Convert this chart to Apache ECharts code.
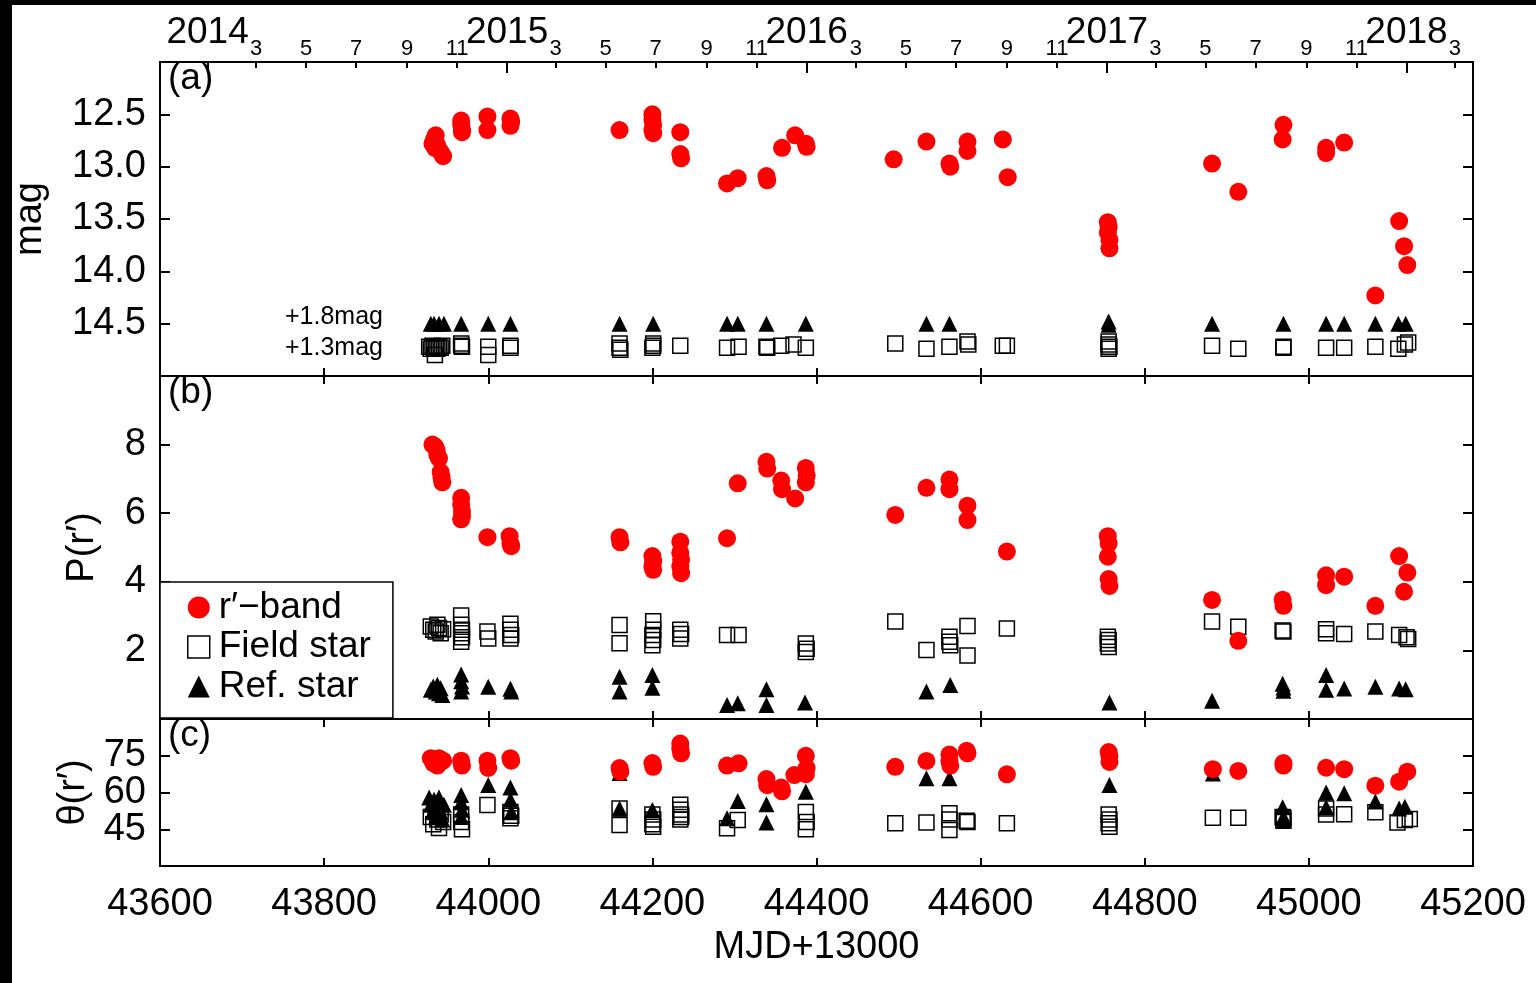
<!DOCTYPE html>
<html>
<head>
<meta charset="utf-8">
<title>r′-band photometry and polarimetry</title>
<script src="https://cdn.jsdelivr.net/npm/echarts@6/dist/echarts.min.js"></script>
<style>
  html, body { margin: 0; padding: 0; width: 1536px; height: 983px; background: #000; overflow: hidden; }
  #chart { position: absolute; left: 12px; top: 5px; width: 1524px; height: 978px; background: #fff; }
</style>
</head>
<body>
<div id="chart"></div>
<script>
// ---------- data: [MJD-13000 value, quantity] ----------
// (a) magnitudes
const magRband = [
  [43932,12.78],[43934,12.74],[43936,12.70],[43935,12.82],[43938,12.80],[43940,12.84],[43942,12.86],[43945,12.90],
  [43967,12.56],[43967,12.60],[43968,12.64],[43968,12.67],
  [43999,12.52],[43999,12.65],
  [44027,12.54],[44028,12.57],[44027,12.61],
  [44160,12.65],
  [44200,12.50],[44200,12.55],[44201,12.60],[44200,12.65],[44201,12.68],
  [44234,12.67],[44234,12.88],[44235,12.92],
  [44291,13.16],[44304,13.11],
  [44339,13.09],[44340,13.13],
  [44358,12.82],[44374,12.70],[44387,12.78],[44388,12.81],
  [44494,12.93],[44534,12.76],
  [44562,12.97],[44563,13.00],
  [44584,12.76],[44584,12.85],
  [44627,12.74],[44633,13.10],
  [44755,13.53],[44756,13.58],[44755,13.63],[44757,13.70],[44757,13.78],
  [44882,12.97],[44914,13.24],
  [44969,12.60],[44968,12.74],
  [45021,12.82],[45021,12.87],[45043,12.77],
  [45081,14.23],[45110,13.52],[45116,13.76],[45120,13.94]
];
const magField = [
  [43928,14.72],[43930,14.74],[43932,14.71],[43934,14.73],[43936,14.72],[43938,14.74],[43940,14.72],[43942,14.73],[43944,14.71],[43935,14.80],
  [43967,14.69],[43967,14.71],[43968,14.72],
  [44000,14.72],[44000,14.80],
  [44027,14.71],[44027,14.73],
  [44160,14.69],[44160,14.73],[44161,14.75],
  [44201,14.69],[44201,14.71],[44200,14.73],
  [44234,14.71],
  [44291,14.73],[44305,14.72],
  [44339,14.72],[44340,14.73],[44357,14.71],[44372,14.70],[44387,14.73],
  [44496,14.69],[44534,14.74],
  [44562,14.72],[44584,14.67],[44585,14.70],
  [44627,14.71],[44632,14.71],
  [44756,14.67],[44756,14.70],[44757,14.72],[44756,14.74],
  [44882,14.71],[44914,14.74],
  [44969,14.72],[44969,14.73],
  [45021,14.73],[45043,14.73],[45081,14.72],[45109,14.74],[45117,14.70],[45121,14.68]
];
const magRef = [
  [43930,14.50],[43934,14.50],[43940,14.50],[43946,14.50],
  [43967,14.50],[44000,14.50],[44027,14.50],
  [44160,14.50],[44201,14.50],
  [44291,14.50],[44304,14.50],[44339,14.50],[44387,14.50],
  [44534,14.50],[44562,14.50],
  [44756,14.48],[44756,14.51],
  [44882,14.50],[44969,14.50],[45021,14.50],[45043,14.50],[45081,14.50],[45109,14.50],[45118,14.50]
];

// (b) polarization degree
const polRband = [
  [43932,8.00],[43935,7.95],[43937,7.85],[43938,7.70],[43940,7.60],[43942,7.20],[43943,7.05],[43944,6.90],
  [43967,6.45],[43967,6.25],[43968,6.05],[43968,5.92],[43967,5.82],
  [43999,5.30],
  [44026,5.33],[44027,5.12],[44028,5.04],
  [44160,5.30],[44161,5.15],
  [44200,4.75],[44201,4.60],[44200,4.45],[44201,4.35],
  [44234,5.17],[44234,4.85],[44235,4.65],[44234,4.45],[44235,4.25],
  [44291,5.27],[44304,6.87],
  [44339,7.50],[44340,7.30],
  [44357,6.95],[44358,6.70],
  [44374,6.43],
  [44387,7.32],[44388,7.10],[44387,6.90],
  [44496,5.95],[44534,6.74],
  [44562,6.98],[44562,6.70],
  [44584,6.22],[44584,5.80],
  [44632,4.88],
  [44755,5.33],[44756,5.12],[44755,4.73],[44756,4.08],[44757,3.88],
  [44882,3.47],[44914,2.28],
  [44968,3.48],[44969,3.30],
  [45021,4.19],[45021,3.90],[45043,4.15],
  [45081,3.30],[45110,4.75],[45120,4.27],[45116,3.71]
];
const polField = [
  [43930,2.70],[43933,2.60],[43936,2.55],[43938,2.75],[43940,2.65],[43942,2.50],[43945,2.62],
  [43967,3.02],[43967,2.75],[43968,2.60],[43967,2.50],[43968,2.38],[43967,2.25],
  [43999,2.55],[44000,2.35],
  [44027,2.78],[44027,2.60],[44028,2.45],[44027,2.35],
  [44160,2.74],[44160,2.21],
  [44201,2.85],[44201,2.60],[44200,2.45],[44201,2.30],[44200,2.15],
  [44234,2.60],[44235,2.48],[44234,2.35],
  [44291,2.45],[44305,2.45],
  [44387,2.20],[44388,2.05],[44387,1.95],
  [44496,2.84],[44534,2.01],
  [44562,2.40],[44562,2.25],[44563,2.15],
  [44584,2.71],[44584,1.85],
  [44632,2.64],
  [44755,2.40],[44756,2.30],[44755,2.20],[44756,2.10],
  [44882,2.84],[44914,2.69],
  [44968,2.58],[44969,2.55],
  [45021,2.62],[45021,2.50],[45043,2.48],
  [45081,2.55],[45110,2.45],[45119,2.38],[45121,2.33]
];
const polRef = [
  [43930,0.85],[43933,0.95],[43936,0.80],[43938,1.00],[43940,0.75],[43942,0.90],[43944,0.70],
  [43967,1.30],[43967,1.10],[43968,0.95],[43967,0.80],
  [44000,0.94],[44027,0.88],[44028,0.80],
  [44160,1.23],[44160,0.80],
  [44200,1.28],[44200,0.91],
  [44291,0.41],[44304,0.46],
  [44339,0.87],[44339,0.41],
  [44386,0.48],
  [44534,0.80],[44563,0.99],
  [44757,0.48],
  [44882,0.53],
  [44968,1.03],[44969,0.92],[44969,0.82],
  [45021,1.28],[45021,0.85],[45043,0.89],
  [45081,0.94],[45110,0.89],[45118,0.87]
];

// (c) polarization angle
const angRband = [
  [43930,74],[43933,72],[43936,73.5],[43938,71],[43940,74],[43942,72.5],[43945,73],
  [43967,73],[43968,71],
  [43999,73],[44000,70],
  [44027,74],[44028,73],
  [44160,70],[44161,68.5],
  [44200,72],[44201,70.5],
  [44234,80],[44234,78],[44235,76],
  [44291,71],[44305,71.9],
  [44339,65.5],[44340,63],
  [44357,62],[44358,60.5],
  [44373,67.1],
  [44387,75],[44388,70],[44387,67.5],
  [44496,70.5],[44534,72.9],
  [44562,75.5],[44562,73],[44563,71],
  [44583,77],[44584,76],
  [44632,67.4],
  [44756,76.5],[44757,75],[44757,72.5],
  [44883,69.5],[44914,68.8],
  [44969,72],[44969,71],
  [45021,70.1],[45043,69.5],
  [45081,62.8],[45110,64.4],[45120,68.5]
];
const angField = [
  [43930,50],[43933,47],[43936,52],[43938,49],[43940,45.5],[43942,51],[43945,48],
  [43967,51],[43967,48],[43968,45],
  [43999,54.9],
  [44027,52],[44028,50.5],[44027,49.5],
  [44160,53.5],[44160,46.7],
  [44200,51],[44201,49],[44200,47],[44201,46],
  [44234,55],[44234,53],[44235,51],[44234,49],[44235,50],
  [44291,45.4],[44304,48.8],
  [44387,52],[44388,48],[44387,45],
  [44496,47.4],[44534,47.8],
  [44562,51.5],[44562,49],[44562,44.7],
  [44583,48.5],[44584,48],
  [44632,47.4],
  [44756,51],[44757,49],[44756,47.5],[44757,46],
  [44883,49.7],[44914,49.7],
  [44968,50],[44969,48.5],[44969,49.5],
  [45021,53.5],[45021,51],[45043,51.1],
  [45081,51.9],[45108,47.8],[45117,48.8],[45123,49.2]
];
const angRef = [
  [43928,58],[43930,55],[43932,52],[43934,57],[43936,50],[43938,54],[43940,58],[43942,52],[43944,49],[43946,55],
  [43967,59],[43967,56],[43968,53],[43967,50],
  [44000,63.1],
  [44027,62],[44027,57],[44028,52],
  [44160,68],[44160,53.5],[44200,52.9],
  [44291,49.5],[44304,56.5],
  [44339,55.2],[44339,47.8],
  [44387,60.3],
  [44534,65.8],[44562,65.8],
  [44757,63.1],
  [44883,67.8],
  [44968,54],[44969,50],[44969,48.5],
  [45021,60],[45021,54],[45043,59.7],
  [45081,56.3],[45110,53.5],[45117,54.2]
];

// ---------- tick labels ----------
const xTickStep = 200;
const yearLabels = ['2014', '2015', '2016', '2017', '2018'];
const monthLabels = ['3', '5', '7', '9', '11'];
const seriesNames = ['r′−band', 'Field star', 'Ref. star'];

// calendar date -> MJD-13000
function dayValue(year, month) {
  return Date.UTC(year, month - 1, 1) / 86400000 + 40587 - 13000;
}
const X_MIN = 43600, X_MAX = 45200;
const yearTicks = [], monthTicks = [], topLabel = new Map();
yearLabels.forEach(function (y) {
  const yr = Number(y);
  const v = dayValue(yr, 1);
  if (v >= X_MIN && v <= X_MAX) { yearTicks.push(v); topLabel.set(v, y); }
  monthLabels.forEach(function (m) {
    const mv = dayValue(yr, Number(m));
    if (mv >= X_MIN && mv <= X_MAX) { monthTicks.push(mv); topLabel.set(mv, m); }
  });
});

// ---------- layout ----------
const FONT = 'Liberation Sans, Arial, Helvetica, sans-serif';
const BLACK = '#000';
const RED = '#ff0000';
const grids = [
  { left: 148, top: 57,  width: 1313, height: 314 },
  { left: 148, top: 371, width: 1313, height: 343 },
  { left: 148, top: 714, width: 1313, height: 147 }
].map(function (g) { return Object.assign({ containLabel: false, outerBoundsMode: 'none' }, g); });

const line = { show: true, onZero: false, lineStyle: { color: BLACK, width: 2 } };

function plainX(gridIndex, position, withLabels) {
  return {
    type: 'value', gridIndex: gridIndex, position: position,
    min: X_MIN, max: X_MAX, interval: xTickStep,
    axisLine: line,
    axisTick: { show: true, inside: true, length: 8, lineStyle: { color: BLACK, width: 2 } },
    axisLabel: withLabels ? {
      show: true, color: BLACK, fontSize: 38, fontFamily: FONT, margin: 20,
      showMinLabel: true, showMaxLabel: true, hideOverlap: false,
      formatter: function (v) { return String(v); }
    } : { show: false },
    splitLine: { show: false }
  };
}

const xAxes = [
  plainX(0, 'bottom', false),
  // month ticks along the top of panel (a)
  {
    type: 'value', gridIndex: 0, position: 'top', min: X_MIN, max: X_MAX,
    axisLine: line,
    axisTick: { show: true, inside: true, length: 6, customValues: monthTicks, lineStyle: { color: BLACK, width: 2 } },
    axisLabel: { show: true, customValues: monthTicks, formatter: function (v) { return topLabel.get(v); },
      color: BLACK, fontSize: 22, fontFamily: FONT, margin: 2, hideOverlap: false },
    splitLine: { show: false }
  },
  // year ticks along the top of panel (a)
  {
    type: 'value', gridIndex: 0, position: 'top', min: X_MIN, max: X_MAX,
    axisLine: { show: false },
    axisTick: { show: true, inside: true, length: 11, customValues: yearTicks, lineStyle: { color: BLACK, width: 2 } },
    axisLabel: { show: true, customValues: yearTicks, formatter: function (v) { return topLabel.get(v); },
      color: BLACK, fontSize: 37, fontFamily: FONT, margin: 11, hideOverlap: false },
    splitLine: { show: false }
  },
  plainX(1, 'bottom', false),
  plainX(1, 'top', false),
  Object.assign(plainX(2, 'bottom', true), {
    name: 'MJD+13000', nameLocation: 'middle', nameGap: 63,
    nameTextStyle: { color: BLACK, fontSize: 38, fontFamily: FONT }
  }),
  plainX(2, 'top', false)
];

function yPair(gridIndex, min, max, interval, inverse, name, nameGap) {
  const base = {
    type: 'value', gridIndex: gridIndex, min: min, max: max, interval: interval, inverse: inverse,
    axisLine: line,
    axisTick: { show: true, inside: true, length: 10, lineStyle: { color: BLACK, width: 2 } },
    splitLine: { show: false }
  };
  return [
    Object.assign({}, base, {
      position: 'left',
      axisLabel: { show: true, color: BLACK, fontSize: 38, fontFamily: FONT, margin: 14,
        showMinLabel: false, showMaxLabel: false,
        formatter: function (v) { return interval < 1 ? v.toFixed(1) : String(v); } },
      name: name, nameLocation: 'middle', nameGap: nameGap,
      nameTextStyle: { color: BLACK, fontSize: 38, fontFamily: FONT }
    }),
    Object.assign({}, base, { position: 'right', axisLabel: { show: false } })
  ];
}

const yAxes = [].concat(
  yPair(0, 12, 15, 0.5, true, 'mag', 110),
  yPair(1, 0, 10, 2, false, 'P(r′)', 58),
  yPair(2, 30, 90, 15, false, 'θ(r′)', 58)
);

const styleR = { symbol: 'circle', symbolSize: 18, itemStyle: { color: RED, opacity: 1 } };
const styleF = { symbol: 'rect', symbolSize: 15, itemStyle: { color: 'rgba(0,0,0,0)', borderColor: BLACK, borderWidth: 1.5, opacity: 1 } };
const styleT = { symbol: 'triangle', symbolSize: 16, itemStyle: { color: BLACK, opacity: 1 } };

function scatter(name, data, xi, yi, st) {
  return Object.assign({ type: 'scatter', name: name, data: data, xAxisIndex: xi, yAxisIndex: yi,
    silent: true, animation: false }, st);
}

const series = [
  scatter(seriesNames[1], magField, 0, 0, styleF),
  scatter(seriesNames[2], magRef, 0, 0, styleT),
  scatter(seriesNames[0], magRband, 0, 0, styleR),
  scatter(seriesNames[1], polField, 3, 2, styleF),
  scatter(seriesNames[2], polRef, 3, 2, styleT),
  scatter(seriesNames[0], polRband, 3, 2, styleR),
  scatter(seriesNames[1], angField, 5, 4, styleF),
  scatter(seriesNames[2], angRef, 5, 4, styleT),
  scatter(seriesNames[0], angRband, 5, 4, styleR)
];

const panelText = function (txt, left, top) {
  return { type: 'text', left: left, top: top, z: 10,
    style: { text: txt, fill: BLACK, font: '37px ' + FONT } };
};
const offsetText = function (txt, x, y) {
  return { type: 'text', x: x, y: y, z: 10,
    style: { text: txt, fill: BLACK, font: '25px ' + FONT, align: 'right', verticalAlign: 'middle' } };
};

const chart = echarts.init(document.getElementById('chart'), null, { renderer: 'canvas' });
chart.setOption({
  backgroundColor: '#fff',
  animation: false,
  grid: grids,
  xAxis: xAxes,
  yAxis: yAxes,
  legend: {
    left: 148, top: 577, orient: 'vertical',
    padding: [7, 22, 13, 27], itemGap: 2.5, itemWidth: 22, itemHeight: 22,
    borderColor: BLACK, borderWidth: 1.5, backgroundColor: '#fff',
    selectedMode: false, z: 20,
    textStyle: { color: BLACK, fontSize: 37, fontFamily: FONT, lineHeight: 37, padding: [0, 0, 0, 4] },
    data: [
      { name: seriesNames[0], icon: 'circle', itemStyle: { color: RED, opacity: 1 } },
      { name: seriesNames[1], icon: 'rect', itemStyle: { color: '#fff', borderColor: BLACK, borderWidth: 1.5, opacity: 1 } },
      { name: seriesNames[2], icon: 'triangle', itemStyle: { color: BLACK, opacity: 1 } }
    ]
  },
  graphic: [
    panelText('(a)', 156, 55),
    panelText('(b)', 156, 369),
    panelText('(c)', 156, 712),
    offsetText('+1.8mag', 371, 312),
    offsetText('+1.3mag', 371, 343)
  ],
  series: series
});
</script>
</body>
</html>
